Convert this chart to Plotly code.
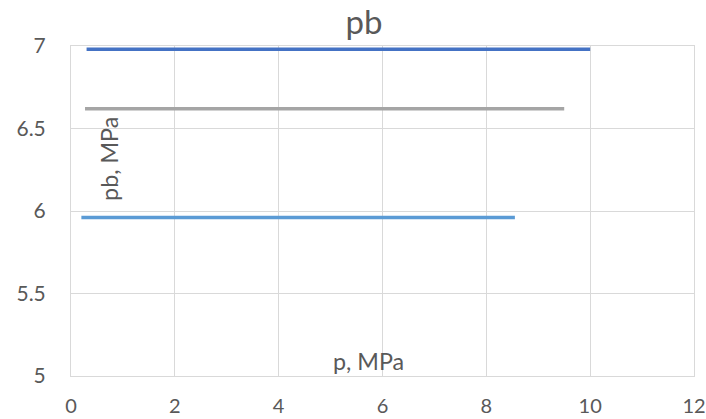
import plotly.graph_objects as go

# Three series of pb (MPa) versus p (MPa), each constant across its range
series_names = ["Series 1", "Series 2", "Series 3"]
p_start = [0.3, 0.27, 0.2]
p_end = [10.0, 9.5, 8.55]
pb_values = [6.98, 6.62, 5.96]
line_colors = ["#4472C4", "#A5A5A5", "#5B9BD5"]

x_ticks = [0, 2, 4, 6, 8, 10, 12]
y_ticks = [5, 5.5, 6, 6.5, 7]

FONT = "Lato, Open Sans, sans-serif"
TEXT_COLOR = "#595959"
GRID_COLOR = "#D9D9D9"

fig = go.Figure()
for name, x0, x1, v, c in zip(series_names, p_start, p_end, pb_values, line_colors):
    fig.add_trace(go.Scatter(
        x=[x0, x1], y=[v, v], mode="lines", name=name,
        line=dict(color=c, width=3.5),
        showlegend=False,
    ))

fig.update_layout(
    width=706, height=419,
    margin=dict(l=71, r=12, t=46, b=43),
    paper_bgcolor="white", plot_bgcolor="white",
    font=dict(family=FONT, color=TEXT_COLOR, size=21),
    title=dict(text="pb", x=364 / 706, xanchor="center", y=1 - 22 / 419,
               yanchor="middle", yref="container",
               font=dict(size=33, color=TEXT_COLOR, family=FONT)),
    xaxis=dict(range=[0, 12], tickvals=x_ticks, showgrid=True, gridcolor=GRID_COLOR,
               gridwidth=1, showline=True, mirror=True, linecolor=GRID_COLOR, linewidth=1,
               zeroline=False, ticks="outside", ticklen=12, tickcolor="rgba(0,0,0,0)",
               automargin=False, ticklabeloverflow="allow",
               tickfont=dict(size=20, color=TEXT_COLOR)),
    yaxis=dict(range=[5, 7], tickvals=y_ticks, ticktext=["5", "5.5", "6", "6.5", "7"],
               showgrid=True, gridcolor=GRID_COLOR,
               gridwidth=1, showline=True, mirror=True, linecolor=GRID_COLOR, linewidth=1,
               zeroline=False, ticks="outside", ticklen=20, tickcolor="rgba(0,0,0,0)",
               automargin=False, tickfont=dict(size=21, color=TEXT_COLOR)),
    annotations=[
        dict(text="pb, MPa", xref="paper", yref="paper", x=0.06, y=0.659,
             xanchor="center", yanchor="middle", textangle=-90, showarrow=False,
             font=dict(size=23.3, color=TEXT_COLOR, family=FONT)),
        dict(text="p, MPa", xref="paper", yref="paper", x=0.477, y=0.045,
             xanchor="center", yanchor="middle", showarrow=False,
             font=dict(size=23.3, color=TEXT_COLOR, family=FONT)),
    ],
)

fig.write_html("out.html")
